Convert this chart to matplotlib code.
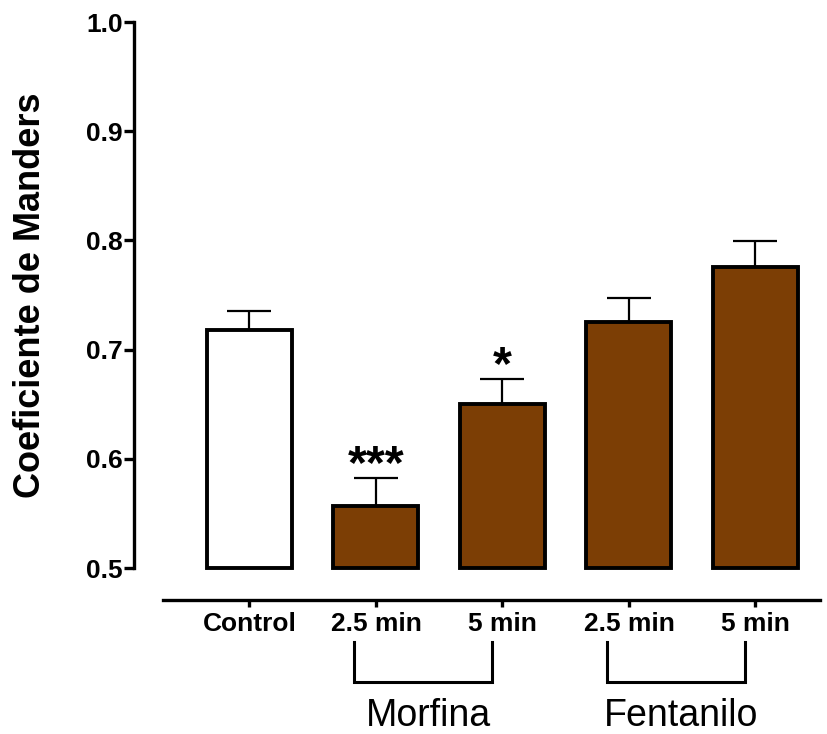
import matplotlib
matplotlib.use('Agg')
import matplotlib.pyplot as plt
import matplotlib.transforms as mtransforms

categories = ['Control', '2.5 min', '5 min', '2.5 min', '5 min']
means = [0.718, 0.557, 0.650, 0.7255, 0.776]
sems = [0.017, 0.025, 0.023, 0.022, 0.023]
stars = ['', '***', '*', '', '']
groups = ['Morfina', 'Fentanilo']
group_bars = [(1, 2), (3, 4)]

brown = '#7C3E05'
colors = ['white', brown, brown, brown, brown]
base = 0.5

plt.rcParams['font.family'] = ['Liberation Sans', 'DejaVu Sans']

fig = plt.figure(figsize=(8.28, 7.34), dpi=100)
ax = fig.add_axes([134 / 828, 166 / 734, 686 / 828, 546 / 734])

x = list(range(len(categories)))
heights = [m - base for m in means]
bars = ax.bar(x, heights, width=0.672, bottom=base, color=colors, edgecolor='black',
              linewidth=2.8, zorder=3)
for b in bars:
    b.set_clip_on(False)
ax.errorbar(x, means, yerr=[[0] * len(sems), sems], fmt='none', ecolor='black',
            elinewidth=1.6, capsize=15.5, capthick=1.6, zorder=2)

for xi, m, s, st in zip(x, means, sems, stars):
    if st:
        ax.text(xi, m + s, st, ha='center', va='baseline',
                fontsize=35, fontweight='bold')

ax.set_ylim(0.5, 1.0)
ax.set_xlim(-0.913, 4.51)
ax.set_yticks([0.5, 0.6, 0.7, 0.8, 0.9, 1.0])
ax.set_yticklabels(['0.5', '0.6', '0.7', '0.8', '0.9', '1.0'])
ax.set_xticks(x)
ax.set_xticklabels(categories)

for sp in ['top', 'right']:
    ax.spines[sp].set_visible(False)
ax.spines['left'].set_linewidth(2.4)
ax.spines['bottom'].set_linewidth(2.4)
ax.spines['bottom'].set_position(('outward', 23))
ax.spines['bottom'].set_bounds(-0.684, 4.51)

ax.tick_params(axis='y', length=7, width=2.4, pad=1, labelsize=19)
ax.tick_params(axis='x', length=5, width=2.4, pad=4, labelsize=19)
for lab in ax.get_xticklabels() + ax.get_yticklabels():
    lab.set_fontweight('bold')

ax.set_ylabel('Coeficiente de Manders', fontsize=26, fontweight='bold')
ax.yaxis.set_label_coords(-0.125, 0.5)

# group brackets below the axis
trans = mtransforms.blended_transform_factory(ax.transData, ax.transAxes)
for name, (i, j) in zip(groups, group_bars):
    xl, xr = i - 0.17, j - 0.08
    ax.plot([xl, xl, xr, xr], [-0.1355, -0.2085, -0.2085, -0.1355],
            color='black', linewidth=2.2, transform=trans, clip_on=False,
            solid_joinstyle='miter')
    ax.text((xl + xr) / 2 + 0.04, -0.2895, name, ha='center', va='baseline',
            fontsize=27, transform=trans)

fig.savefig('out.png', dpi=100)
